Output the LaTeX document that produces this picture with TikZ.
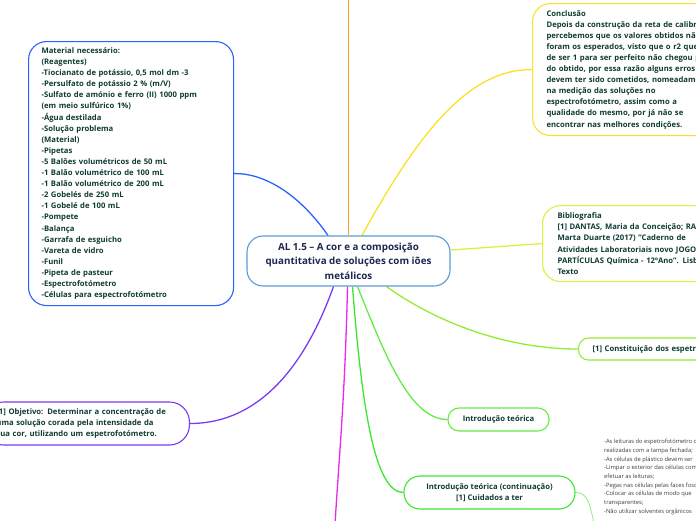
\documentclass[tikz,border=0pt]{standalone}
\usepackage{fontspec}
\setmainfont{Open Sans}
\usetikzlibrary{backgrounds}
\definecolor{mblue}{RGB}{41,98,255}
\definecolor{cblue}{RGB}{91,155,213}
\definecolor{corange}{RGB}{247,160,30}
\definecolor{cyellow}{RGB}{250,225,40}
\definecolor{biblime}{RGB}{222,240,60}
\definecolor{consgreen}{RGB}{150,235,50}
\definecolor{introgreen}{RGB}{100,235,70}
\definecolor{contgreen}{RGB}{60,230,50}
\definecolor{notegreen}{RGB}{140,240,120}
\definecolor{cmagenta}{RGB}{235,40,235}
\definecolor{cpurple}{RGB}{120,60,240}
\definecolor{txt}{RGB}{15,60,50}
\definecolor{navy}{RGB}{30,40,80}
\definecolor{notetxt}{RGB}{60,60,60}
\tikzset{
  box/.style={draw, rounded corners=18pt, line width=1.1pt, fill=white, text=txt,
    font=\bfseries\fontsize{7.7}{11.1}\selectfont, align=left},
  br/.style={line width=1.3pt},
}
\begin{document}
\begin{tikzpicture}[x=1pt,y=-1pt]
\useasboundingbox (0,0) rectangle (696,520);
\clip (0,0) rectangle (696,520);
% central node
\node[box, draw=cblue, rounded corners=16pt, minimum width=203pt, minimum height=50pt,
  align=center, text=navy, font=\bfseries\fontsize{9.8}{14.5}\selectfont] (c) at (348.5,261)
  {AL 1.5 – A cor e a composição\\quantitativa de soluções com iões\\metálicos};
% material
\node[box, draw=mblue, anchor=north west, minimum width=205pt, minimum height=264pt,
  text width=179pt, inner xsep=13pt] (mat) at (28,41)
  {Material necessário:\\
   (Reagentes)\\
   -Tiocianato de potássio, 0,5 mol dm -3\\
   -Persulfato de potássio 2 \% (m/V)\\
   -Sulfato de amónio e ferro (II) 1000 ppm\\
   (em meio sulfúrico 1\%)\\
   -Água destilada\\
   -Solução problema\\
   (Material)\\
   -Pipetas\\
   -5 Balões volumétricos de 50 mL\\
   -1 Balão volumétrico de 100 mL\\
   -1 Balão volumétrico de 200 mL\\
   -2 Gobelés de 250 mL\\
   -1 Gobelé de 100 mL\\
   -Pompete\\
   -Balança\\
   -Garrafa de esguicho\\
   -Vareta de vidro\\
   -Funil\\
   -Pipeta de pasteur\\
   -Espectrofotómetro\\
   -Células para espectrofotómetro};
% conclusion
\node[box, draw=cyellow, anchor=north west, minimum height=132pt, text width=240pt,
  inner xsep=14pt] (conc) at (532,3)
  {Conclusão\\
   Depois da construção da reta de calibração\\
   percebemos que os valores obtidos não\\
   foram os esperados, visto que o r2 que\\
   de ser 1 para ser perfeito não chegou perto\\
   do obtido, por essa razão alguns erros\\
   devem ter sido cometidos, nomeadamente\\
   na medição das soluções no\\
   espectrofotómetro, assim como a\\
   qualidade do mesmo, por já não se\\
   encontrar nas melhores condições.};
% bibliography
\node[box, draw=biblime, anchor=north west, minimum height=76pt, text width=230pt,
  inner xsep=15pt] (bib) at (542,205)
  {Bibliografia\\
   {[1]} DANTAS, Maria da Conceição; RAMALHO,\\
   Marta Duarte (2017) "Caderno de\\
   Atividades Laboratoriais novo JOGO DE\\
   PARTÍCULAS Química - 12ºAno". Lisboa:\\
   Texto};
% constituicao
\node[box, draw=consgreen, anchor=west, rounded corners=10pt, minimum height=22pt,
  text width=200pt, inner xsep=14pt] (cons) at (578,349)
  {[1] Constituição dos espetros};
% intro
\node[box, draw=introgreen, rounded corners=11pt, minimum width=101pt, minimum height=23pt,
  align=center] (intro) at (498.5,419.5) {Introdução teórica};
% intro continuation
\node[box, draw=contgreen, rounded corners=16pt, minimum width=171pt, minimum height=33pt,
  align=center] (cont) at (489.5,492.5) {Introdução teórica (continuação)\\{[1]} Cuidados a ter};
% objective
\node[box, draw=cpurple, anchor=east, rounded corners=20pt, minimum height=43pt,
  text width=180pt, inner xsep=13pt] (obj) at (190,423.5)
  {[1] Objetivo: Determinar a concentração de\\
   uma solução corada pela intensidade da\\
   sua cor, utilizando um espetrofotómetro.};
% notes
\node[anchor=north west, inner sep=0pt, text=notetxt, align=left,
  font=\fontsize{5.8}{8.7}\selectfont] (notes) at (604,439)
  {-As leituras do espetrofotómetro devem ser\\
   realizadas com a tampa fechada;\\
   -As células de plástico devem ser\\
   -Limpar o exterior das células com\\
   efetuar as leituras;\\
   -Pegas nas células pelas faces foscas\\
   -Colocar as células de modo que\\
   transparentes;\\
   -Não utilizar solventes orgânicos};
\coordinate (topend) at (348.5,-5);
\coordinate (botend) at (335,525);
\coordinate (noteend) at (595,528);
% connectors
\begin{scope}[on background layer]
\draw[br, mblue] ([xshift=-20.5pt]c.north) .. controls (300,195) and (265,173) .. (mat.east);
\draw[br, corange] (c.north) -- (topend);
\draw[br, cyellow] ([xshift=13.5pt]c.north) .. controls (420,130) and (470,69) .. (conc.west);
\draw[br, biblime] ([yshift=11pt]c.east) -- (bib.west);
\draw[br, consgreen] ([xshift=38pt]c.south) .. controls (430,318) and (500,349) .. (cons.west);
\draw[br, introgreen] ([xshift=9pt]c.south) .. controls (385,355) and (410,419.5) .. (intro.west);
\draw[br, contgreen] ([xshift=4pt]c.south) .. controls (362,410) and (375,492.5) .. (cont.west);
\draw[br, cmagenta] ([xshift=-1pt]c.south) .. controls (345,400) and (338,470) .. (botend);
\draw[br, cpurple] ([xshift=-15pt]c.south) .. controls (300,380) and (250,423.5) .. (obj.east);
\draw[line width=0.8pt, notegreen] (cont.east) .. controls (588,492) and (590,505) .. (noteend);
\end{scope}
\end{tikzpicture}
\end{document}
